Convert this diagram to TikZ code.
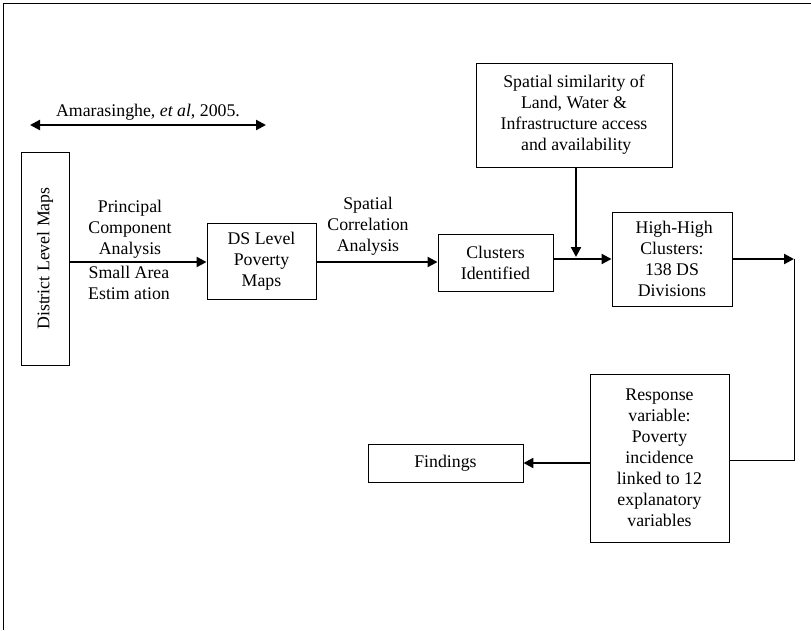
\documentclass[tikz,border=0pt]{standalone}
\usepackage{fontspec}
\setmainfont{Liberation Serif}
\usetikzlibrary{arrows.meta}
\begin{document}
\begin{tikzpicture}[x=1pt,y=-1pt,
  txt/.style={font=\fontsize{17.8}{21}\selectfont, align=center, inner sep=0pt},
  box/.style={draw, line width=0.9pt, txt},
  thick arrow/.style={line width=2.2pt, -{Triangle[length=10pt,width=10pt]}},
  thin line/.style={line width=0.9pt}]
\useasboundingbox (0,0) rectangle (811,630);
% page frame
\draw[line width=1pt] (3,630) -- (3,3) -- (811,3);
% citation
\node[txt] (cite) at (148,112) {Amarasinghe, \textit{et al}, 2005.};
\coordinate (cl) at (30,125);
\coordinate (cr) at (266,125);
\draw[line width=2.2pt, {Triangle[length=10pt,width=10pt]}-{Triangle[length=10pt,width=10pt]}] (cl) -- (cr);
% boxes
\node[box, rotate=90, minimum width=213pt, minimum height=48pt] (dlm) at (45,258.5) {District Level Maps};
\node[box, minimum width=109pt, minimum height=76pt] (dsl) at (261.5,261) {DS Level\\Poverty\\Maps};
\node[box, minimum width=115pt, minimum height=57pt] (ci) at (495.5,262.5) {Clusters\\Identified};
\node[box, minimum width=196pt, minimum height=104pt] (ss) at (574,115) {Spatial similarity of\\Land, Water \&\\Infrastructure access\\ \ and availability};
\node[box, minimum width=120pt, minimum height=94pt] (hh) at (672,259) {\ High-High\\Clusters:\\138 DS\\Divisions};
\node[box, minimum width=139pt, minimum height=168pt] (rv) at (659.5,458) {Response\\variable:\\Poverty\\incidence\\linked to 12\\explanatory\\variables};
\node[box, minimum width=155pt, minimum height=38pt] (fd) at (445.5,463) {Findings};
% labels
\node[txt] (pca) at (130,229) {Principal\\Component\\Analysis};
\node[txt] (sae) at (129,282.5) {Small Area\\Estim ation};
\node[txt] (sca) at (368,226.5) {Spatial\\Correlation\\Analysis};
% connectors
\draw[thick arrow] (dlm.south |- 0,262) -- (dsl.west |- 0,262);
\draw[thick arrow] (dsl.east |- 0,262) -- (ci.west |- 0,262);
\draw[thick arrow] (ci.east |- 0,259) -- (hh.west |- 0,259);
\coordinate (mj) at (576,257);
\draw[thick arrow] (ss.south -| mj) -- (mj);
\coordinate (turn) at (794,259);
\draw[thick arrow] (hh.east |- turn) -- (turn);
\draw[thin line] (turn) -- (794,460) -- (rv.east |- 0,460);
\draw[thick arrow] (rv.west |- 0,463) -- (fd.east |- 0,463);
\end{tikzpicture}
\end{document}
